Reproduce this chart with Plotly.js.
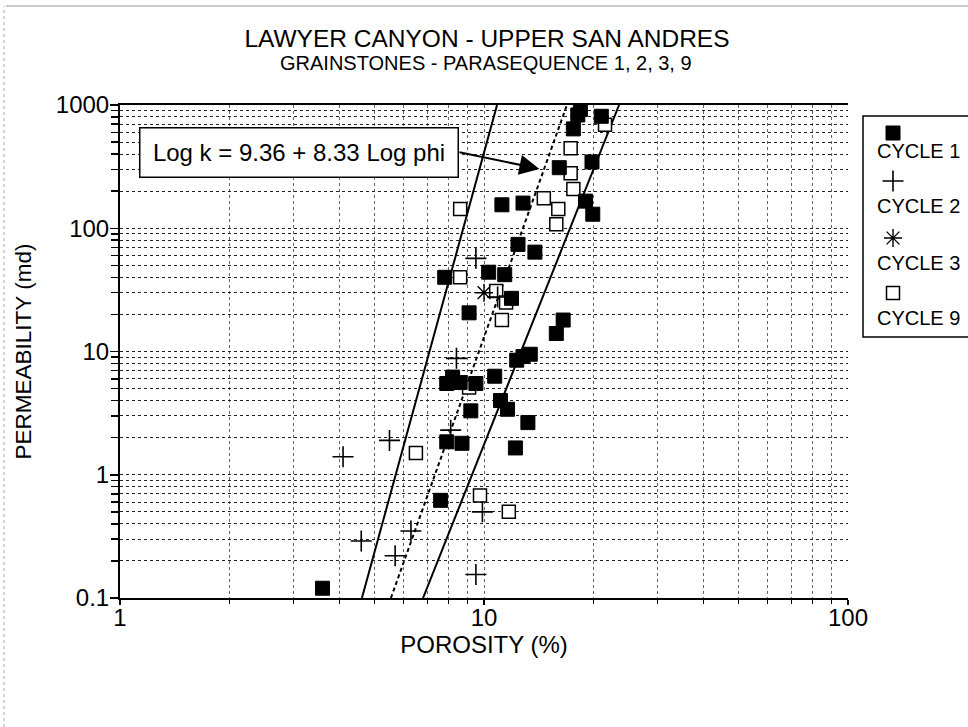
<!DOCTYPE html>
<html>
<head>
<meta charset="utf-8">
<script src="https://cdn.plot.ly/plotly-3.0.1.min.js"></script>
<style>html,body{margin:0;padding:0;background:#fff;}#chart{width:968px;height:727px;}</style>
</head>
<body>
<div id="chart"></div>
<script>
// ---- data ----
const c1Phi = [18.4, 18.1, 21.0, 17.6, 16.1, 19.8, 11.2, 12.8, 19.0, 19.9, 7.8, 10.3, 11.4, 12.4, 13.8, 11.9, 9.1, 16.5, 15.8, 12.3, 12.8, 13.4, 8.2, 8.6, 7.9, 9.5, 10.7, 11.1, 11.6, 9.2, 13.2, 7.9, 8.7, 12.2, 7.6, 3.6];
const c1K   = [920, 830, 810, 640, 310, 345, 155, 160, 166, 130, 40, 44, 42, 74, 64, 27, 20.6, 18, 14, 8.5, 9.1, 9.5, 6.2, 5.6, 5.5, 5.5, 6.3, 4.0, 3.4, 3.3, 2.65, 1.85, 1.8, 1.65, 0.62, 0.12];

const c2Phi = [9.5, 10.9, 8.4, 8.1, 5.5, 4.1, 9.9, 6.3, 4.6, 5.7, 9.5];
const c2K   = [57, 27.7, 8.8, 2.3, 1.9, 1.4, 0.5, 0.35, 0.29, 0.22, 0.155];

const c3Phi = [10.0];
const c3K   = [30];

const c9Phi = [21.5, 17.3, 17.3, 17.6, 14.6, 16.0, 15.8, 8.6, 8.6, 10.8, 11.5, 11.2, 9.1, 6.5, 9.75, 11.7];
const c9K   = [690, 445, 280, 208, 175, 143, 108, 143, 40, 31, 25, 18, 5.1, 1.5, 0.68, 0.5];

// fitted line and bounds: porosity at k = 0.1 and k = 1000
const lineK = [0.1, 1000];
const lowerBoundPhi = [4.62, 10.86];
const fitPhi = [5.55, 16.9];
const upperBoundPhi = [6.80, 23.5];

// arrow of the equation label (porosity, permeability)
const arrowTip = [14.2, 303];
const arrowTail = [8.48, 416];

const xTickVals = [1, 10, 100];
const xTickText = ['1', '10', '100'];
const yTickVals = [0.1, 1, 10, 100, 1000];
const yTickText = ['0.1', '1', '10', '100', '1000'];

const seriesNames = ['CYCLE 1', 'CYCLE 2', 'CYCLE 3', 'CYCLE 9'];
const titleText = 'LAWYER CANYON - UPPER SAN ANDRES';
const subtitleText = 'GRAINSTONES - PARASEQUENCE 1, 2, 3, 9';
const equationText = 'Log k = 9.36 + 8.33 Log phi';

// ---- rendering ----
const W = 968, H = 727;
const SANS = '"Liberation Sans", Arial, Helvetica, sans-serif';

function minorVals(lo, hi) {
  const v = [];
  for (let d = lo; d < hi; d++) for (let m = 2; m <= 9; m++) v.push(m * Math.pow(10, d));
  return v;
}

const symbols = [
  {symbol: 'square', size: 14, color: 'black', line: {color: 'black', width: 1}},
  {symbol: 'cross-thin', size: 15, color: 'black', line: {color: 'black', width: 1.6}},
  {symbol: 'asterisk-open', size: 15, color: 'black', line: {color: 'black', width: 1.4}},
  {symbol: 'square', size: 13, color: 'white', line: {color: 'black', width: 1.5}}
];

const traces = [
  {x: lowerBoundPhi, y: lineK, mode: 'lines', line: {color: 'black', width: 2}, hoverinfo: 'skip'},
  {x: fitPhi, y: lineK, mode: 'lines', line: {color: 'black', width: 2, dash: '4px,3px'}, hoverinfo: 'skip'},
  {x: upperBoundPhi, y: lineK, mode: 'lines', line: {color: 'black', width: 2}, hoverinfo: 'skip'},
  {x: c9Phi, y: c9K, mode: 'markers', name: seriesNames[3], marker: symbols[3]},
  {x: c2Phi, y: c2K, mode: 'markers', name: seriesNames[1], marker: symbols[1]},
  {x: c3Phi, y: c3K, mode: 'markers', name: seriesNames[2], marker: symbols[2]},
  {x: c1Phi, y: c1K, mode: 'markers', name: seriesNames[0], marker: symbols[0]}
];

// custom legend (marker above label) on a hidden pixel-scaled axis pair
const legMarkerY = [133, 181, 238, 293];
const legLabelY = [151, 206, 263, 318];
const legOrder = [0, 1, 2, 3];
legOrder.forEach((s, i) => {
  traces.push({x: [893], y: [legMarkerY[i]], xaxis: 'x2', yaxis: 'y2', mode: 'markers', marker: symbols[s], hoverinfo: 'skip'});
});

const annotations = [
  {xref: 'paper', yref: 'paper', x: 486 / W, y: 1 - 63 / H, xanchor: 'center', yanchor: 'middle',
   text: subtitleText, showarrow: false, font: {family: SANS, size: 20, color: 'black'}},
  {xref: 'paper', yref: 'paper', x: 299 / W, y: 1 - 152.5 / H, xanchor: 'center', yanchor: 'middle',
   text: equationText, showarrow: false, font: {family: SANS, size: 24, color: 'black'},
   bordercolor: 'black', borderwidth: 1.5, borderpad: 6, bgcolor: 'white', width: 305, height: 36},
  {xref: 'x', yref: 'y', axref: 'x', ayref: 'y',
   x: Math.log10(arrowTip[0]), y: Math.log10(arrowTip[1]),
   ax: Math.log10(arrowTail[0]), ay: Math.log10(arrowTail[1]),
   text: '', showarrow: true, arrowhead: 2, arrowsize: 2, arrowwidth: 2, arrowcolor: 'black', standoff: 0, startstandoff: 0}
];
seriesNames.forEach((n, i) => {
  annotations.push({xref: 'x2', yref: 'y2', x: 875, y: legLabelY[i], xanchor: 'left', yanchor: 'middle',
    text: n, showarrow: false, font: {family: SANS, size: 20, color: 'black'}});
});

const shapes = [
  {type: 'rect', xref: 'paper', yref: 'paper', x0: 863 / W, x1: 1.02, y0: 1 - 337 / H, y1: 1 - 116 / H,
   line: {color: 'black', width: 1.5}, fillcolor: 'white', layer: 'below'},
  {type: 'line', xref: 'paper', yref: 'paper', x0: 6 / W, x1: 1, y0: 1 - 6 / H, y1: 1 - 6 / H, line: {color: '#999', width: 1}},
  {type: 'line', xref: 'paper', yref: 'paper', x0: 4 / W, x1: 4 / W, y0: 0, y1: 1 - 6 / H, line: {color: '#aaa', width: 1, dash: 'dot'}}
];

const layout = {
  width: W, height: H,
  margin: {l: 0, r: 0, t: 0, b: 0},
  paper_bgcolor: 'white', plot_bgcolor: 'white',
  showlegend: false,
  font: {family: SANS, color: 'black'},
  title: {text: titleText, font: {family: SANS, size: 24.5, color: 'black'},
          x: 487 / W, xanchor: 'center', xref: 'paper', y: 1 - 38 / H, yanchor: 'middle', yref: 'container'},
  xaxis: {
    type: 'log', domain: [120 / W, 848 / W], range: [0, 2], anchor: 'y',
    tickmode: 'array', tickvals: xTickVals, ticktext: xTickText,
    ticks: 'outside', ticklen: 5, tickwidth: 1.5, tickcolor: 'black',
    tickfont: {family: SANS, size: 24, color: 'black'}, ticklabelstandoff: -8,
    showline: true, linewidth: 2, linecolor: 'black', mirror: true,
    showgrid: true, gridcolor: '#666', griddash: 'dot', gridwidth: 1, zeroline: false,
    minor: {tickmode: 'array', tickvals: minorVals(0, 2), ticks: 'outside', ticklen: 4, tickwidth: 1, tickcolor: 'black',
            showgrid: true, gridcolor: '#666', griddash: 'dot', gridwidth: 1},
    title: {text: 'POROSITY (%)', font: {family: SANS, size: 24, color: 'black'}, standoff: 2},
    automargin: false, fixedrange: true
  },
  yaxis: {
    type: 'log', domain: [1 - 598 / H, 1 - 105 / H], range: [-1, 3], anchor: 'x',
    tickmode: 'array', tickvals: yTickVals, ticktext: yTickText,
    ticks: 'outside', ticklen: 8, tickwidth: 1.5, tickcolor: 'black',
    tickfont: {family: SANS, size: 24, color: 'black'}, ticklabelstandoff: -4,
    showline: true, linewidth: 2, linecolor: 'black', mirror: false,
    showgrid: true, gridcolor: '#222', griddash: 'dot', gridwidth: 1, zeroline: false,
    minor: {tickmode: 'array', tickvals: minorVals(-1, 3), ticks: 'outside', ticklen: 7, tickwidth: 1.5, tickcolor: 'black',
            showgrid: true, gridcolor: '#222', griddash: 'dot', gridwidth: 1},
    title: {text: 'PERMEABILITY (md)', font: {family: SANS, size: 22.5, color: 'black'}, standoff: 18},
    automargin: false, fixedrange: true
  },
  xaxis2: {domain: [863 / W, 1], range: [863, 968], anchor: 'y2', visible: false, fixedrange: true},
  yaxis2: {domain: [1 - 340 / H, 1 - 110 / H], range: [340, 110], anchor: 'x2', visible: false, fixedrange: true},
  annotations: annotations,
  shapes: shapes
};

Plotly.newPlot('chart', traces, layout, {staticPlot: true, displayModeBar: false});
</script>
</body>
</html>
